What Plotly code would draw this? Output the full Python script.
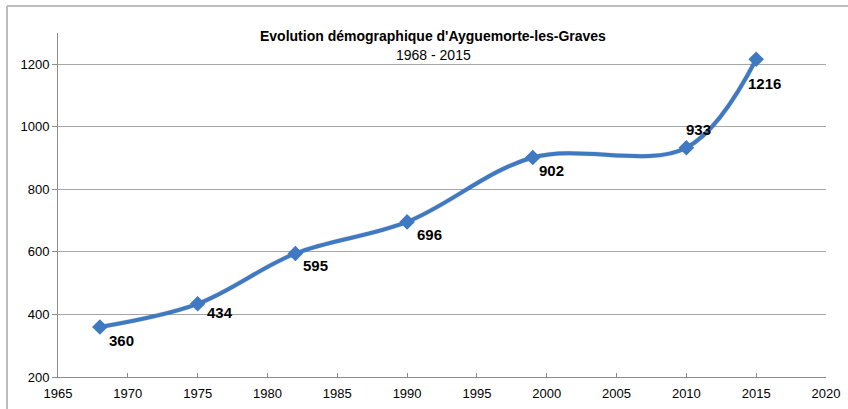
import plotly.graph_objects as go

years = [1968, 1975, 1982, 1990, 1999, 2010, 2015]
population = [360, 434, 595, 696, 902, 933, 1216]
title_main = "Evolution démographique d'Ayguemorte-les-Graves"
title_sub = "1968 - 2015"
x_ticks = list(range(1965, 2021, 5))
y_ticks = list(range(200, 1201, 200))

# label pixel offsets (style)
label_dx = [22, 22, 20, 22, 19, 12, 8]
label_dy = [-14, -9, -12, -13, -13, 18, -24]

W, H = 848, 409
ml, mr, mt, mb = 58, 22, 33, 32
pw, ph = W - ml - mr, H - mt - mb

font = "Liberation Sans, Arial, sans-serif"
blue = "#3F79C2"

fig = go.Figure()
# soft shadow
fig.add_trace(go.Scatter(
    x=years, y=population, mode="lines",
    line=dict(color="rgba(0,0,0,0.12)", width=5, shape="spline", smoothing=1),
    hoverinfo="skip", showlegend=False,
))
fig.add_trace(go.Scatter(
    x=years, y=population, mode="lines+markers",
    line=dict(color=blue, width=4, shape="spline", smoothing=1),
    marker=dict(symbol="diamond", size=12, color=blue),
    showlegend=False,
))

for x, y, dx, dy in zip(years, population, label_dx, label_dy):
    fig.add_annotation(x=x, y=y, text=f"<b>{y}</b>", showarrow=False,
                       xshift=dx, yshift=dy,
                       font=dict(family=font, size=15, color="#000"))

# title
fig.add_annotation(xref="paper", yref="paper", x=(433 - ml) / pw, y=(H - mb - 26) / ph,
                   text=f"<b>{title_main}</b>", showarrow=False,
                   font=dict(family=font, size=14, color="#000"))
fig.add_annotation(xref="paper", yref="paper", x=(433 - ml) / pw, y=(H - mb - 45) / ph,
                   text=title_sub, showarrow=False,
                   font=dict(family=font, size=14, color="#000"))

# outer frame (top and left edges)
fx = (7 - ml) / pw
fy = (H - mb - 6) / ph
fig.add_shape(type="line", xref="paper", yref="paper", x0=fx, x1=(W - ml) / pw + 0.01, y0=fy, y1=fy,
              line=dict(color="#BDBDBD", width=2))
fig.add_shape(type="line", xref="paper", yref="paper", x0=fx, x1=fx, y0=fy, y1=-mb / ph - 0.01,
              line=dict(color="#BDBDBD", width=2))

fig.update_layout(
    width=W, height=H,
    margin=dict(l=ml, r=mr, t=mt, b=mb, autoexpand=False),
    paper_bgcolor="white", plot_bgcolor="white",
    font=dict(family=font, size=13, color="#000"),
    xaxis=dict(range=[1965, 2020], tickvals=x_ticks, showgrid=False,
               showline=True, linecolor="#8C8C8C", linewidth=1,
               ticks="inside", ticklen=4, tickcolor="#8C8C8C",
               zeroline=False, tickfont=dict(family=font, size=13),
               ticklabelstandoff=4, automargin=False),
    yaxis=dict(range=[200, 1300], tickvals=y_ticks, showgrid=True,
               gridcolor="#A6A6A6", gridwidth=1,
               showline=True, linecolor="#8C8C8C", linewidth=1,
               ticks="outside", ticklen=5, tickcolor="#8C8C8C",
               zeroline=False, tickfont=dict(family=font, size=13),
               automargin=False),
)

fig.write_html("out.html", post_script="document.body.style.margin='0';",
               config={"displayModeBar": False})
